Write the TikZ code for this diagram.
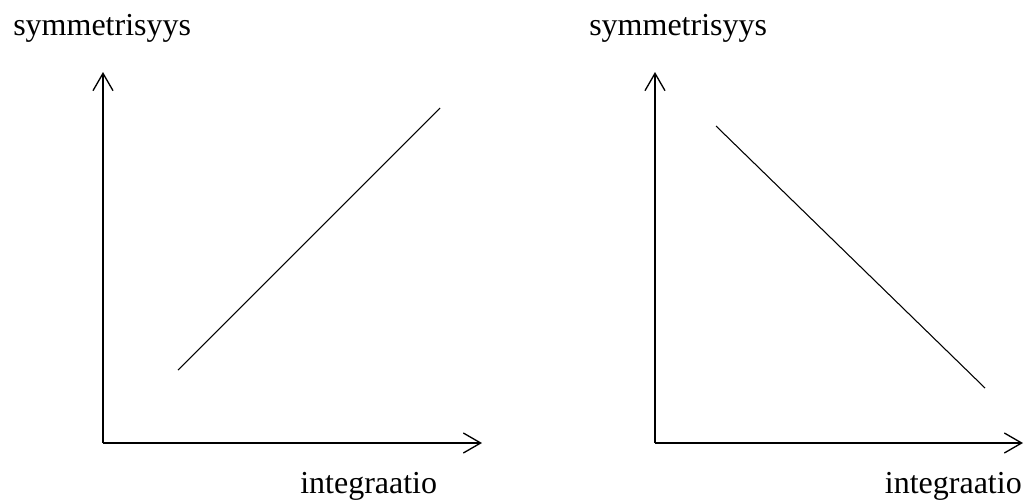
\documentclass[tikz,border=0pt]{standalone}
\usepackage{fontspec}
\setmainfont{Liberation Serif}
\usepackage{tikz}
\usetikzlibrary{arrows.meta, positioning}
\tikzstyle{axis} = [
    -{Straight Barb[length=13pt, width=15pt, line width=1pt]},
    line width=1pt, draw=black
]
\tikzstyle{trend} = [line width=0.8pt, draw=black]
\tikzstyle{axlabel} = [
    inner sep=0pt, font=\fontsize{24}{28}\selectfont
]

\begin{document}
\begin{tikzpicture}[x=0.75pt, y=-0.75pt]
        \useasboundingbox (0,0) rectangle (1026,500);

        % Left axes
        \coordinate (lo) at (103,443);
        \coordinate (ly) at (103,72);
        \coordinate (lx) at (482,443);
        \draw[axis] (lo) -- (ly);
        \draw[axis] (lo) -- (lx);
        \node[axlabel, anchor=base west] (lsym) at (13,35) {symmetrisyys};
        \node[axlabel, anchor=base west] (lint) at (300,493) {integraatio};

        % Rising line
        \coordinate (la) at (178,370);
        \coordinate (lb) at (440,108);
        \draw[trend] (la) -- (lb);

        % Right axes
        \coordinate (ro) at (655,443);
        \coordinate (ry) at (655,72);
        \coordinate (rx) at (1023,443);
        \draw[axis] (ro) -- (ry);
        \draw[axis] (ro) -- (rx);
        \node[axlabel, anchor=base west] (rsym) at (589,35) {symmetrisyys};
        \node[axlabel, anchor=base east] (rint) at (1022,493) {integraatio};

        % Falling line
        \coordinate (ra) at (716,126);
        \coordinate (rb) at (985,388);
        \draw[trend] (ra) -- (rb);
    \end{tikzpicture}
\end{document}
